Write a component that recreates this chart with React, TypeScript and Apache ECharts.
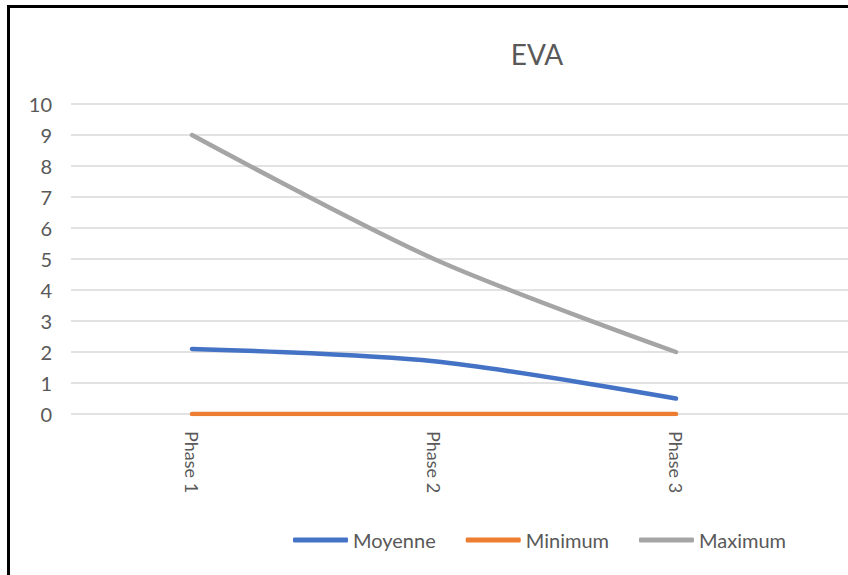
import React, { useEffect, useRef } from "react";
import * as echarts from "echarts";

const categories = ["Phase 1", "Phase 2", "Phase 3", ""];
const moyenne = [2.1, 1.7, 0.5];
const minimum = [0, 0, 0];
const maximum = [9, 5, 2];
const seriesNames = ["Moyenne", "Minimum", "Maximum"];
const colors = ["#4472C4", "#ED7D31", "#A5A5A5"];

export default function App() {
  const ref = useRef<HTMLDivElement>(null);
  useEffect(() => {
    if (!ref.current) return;
    const chart = echarts.init(ref.current, undefined, { renderer: "svg" });
    const font = "Lato";
    const textColor = "#595959";
    const values = [moyenne, minimum, maximum];
    chart.setOption({
      animation: false,
      backgroundColor: "#fff",
      title: {
        text: "EVA",
        left: "center",
        top: 35,
        textStyle: { fontFamily: font, fontSize: 28, fontWeight: "normal", color: textColor },
      },
      legend: {
        left: 288,
        top: 525,
        icon: "roundRect",
        itemWidth: 55,
        itemHeight: 5,
        itemGap: 30,
        data: seriesNames,
        textStyle: { fontFamily: font, fontSize: 20, color: textColor },
      },
      grid: { left: 71, top: 104, width: 968, height: 310, containLabel: false },
      xAxis: {
        type: "category",
        data: categories,
        boundaryGap: true,
        axisLine: { show: false },
        axisTick: { show: false },
        axisLabel: {
          rotate: -90,
          margin: 17,
          fontFamily: font,
          fontSize: 18,
          color: textColor,
        },
      },
      yAxis: {
        type: "value",
        min: 0,
        max: 10,
        interval: 1,
        axisLine: { show: false },
        axisTick: { show: false },
        splitLine: { lineStyle: { color: "#D9D9D9", width: 1.5 } },
        axisLabel: { margin: 19, fontFamily: font, fontSize: 20, color: textColor },
      },
      series: seriesNames.map((name, i) => ({
        name,
        type: "line",
        data: values[i],
        smooth: 0.3,
        symbol: "none",
        color: colors[i],
        lineStyle: { color: colors[i], width: 4.5, cap: "round", join: "round" },
      })),
    });
    return () => chart.dispose();
  }, []);

  return (
    <div
      style={{
        position: "fixed",
        left: 0,
        top: 0,
        width: 848,
        height: 575,
        overflow: "hidden",
        background: "#fff",
      }}
    >
      <div ref={ref} style={{ position: "absolute", left: 0, top: 0, width: 1074, height: 575 }} />
      <div
        style={{
          position: "absolute",
          left: 7,
          top: 5,
          width: 2000,
          height: 2000,
          borderLeft: "3px solid #000",
          borderTop: "3px solid #000",
          pointerEvents: "none",
        }}
      />
    </div>
  );
}
